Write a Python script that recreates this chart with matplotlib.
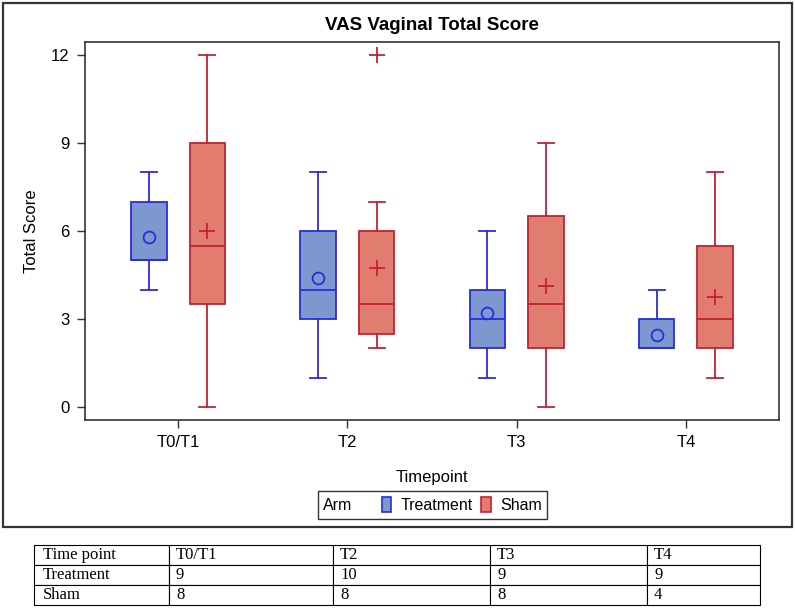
import matplotlib.pyplot as plt
from matplotlib.patches import Patch, Rectangle
from matplotlib.offsetbox import HPacker

# data
timepoints = ['T0/T1', 'T2', 'T3', 'T4']
arms = ['Treatment', 'Sham']

trt_low = [4, 1, 1, 2]
trt_q1 = [5, 3, 2, 2]
trt_med = [5, 4, 3, 2]
trt_q3 = [7, 6, 4, 3]
trt_high = [8, 8, 6, 4]
trt_mean = [5.78, 4.4, 3.22, 2.44]
trt_fliers = [[], [], [], []]

sham_low = [0, 2, 0, 1]
sham_q1 = [3.5, 2.5, 2, 2]
sham_med = [5.5, 3.5, 3.5, 3]
sham_q3 = [9, 6, 6.5, 5.5]
sham_high = [12, 7, 9, 8]
sham_mean = [6.0, 4.75, 4.12, 3.75]
sham_fliers = [[], [12], [], []]

# table under the chart
table_header = ['Time point', 'T0/T1', 'T2', 'T3', 'T4']
table_trt_n = [9, 10, 9, 9]
table_sham_n = [8, 8, 8, 4]

trt_fill, trt_edge = '#7d97cf', '#2b2be0'
sham_fill, sham_edge = '#e07d6e', '#c62035'

plt.rcParams['font.family'] = ['Liberation Sans', 'DejaVu Sans']

W, H = 795, 608
fig = plt.figure(figsize=(W / 100, H / 100), dpi=100)

ax = fig.add_axes([85 / W, 1 - 420 / H, (779 - 85) / W, (420 - 42) / H])


def make_stats(low, q1, med, q3, high, mean, fliers):
    out = []
    for i in range(len(low)):
        out.append(dict(whislo=low[i], q1=q1[i], med=med[i], q3=q3[i],
                        whishi=high[i], mean=mean[i], fliers=fliers[i]))
    return out


def draw(stats, pos, fill, edge, meanmark):
    ax.bxp(stats, positions=pos, widths=0.21, patch_artist=True,
           showmeans=True, showfliers=True,
           boxprops=dict(facecolor=fill, edgecolor=edge, linewidth=1.3),
           medianprops=dict(color=edge, linewidth=1.3),
           whiskerprops=dict(color=edge, linewidth=1.3),
           capprops=dict(color=edge, linewidth=1.3),
           capwidths=0.095,
           meanprops=dict(marker=meanmark, markerfacecolor='none',
                          markeredgecolor=edge, markersize=8.5 if meanmark == 'o' else 11,
                          markeredgewidth=1.3),
           flierprops=dict(marker='+', markeredgecolor=edge, markersize=11,
                           markeredgewidth=1.3))


x = list(range(len(timepoints)))
draw(make_stats(trt_low, trt_q1, trt_med, trt_q3, trt_high, trt_mean, trt_fliers),
     [i - 0.173 for i in x], trt_fill, trt_edge, 'o')
draw(make_stats(sham_low, sham_q1, sham_med, sham_q3, sham_high, sham_mean, sham_fliers),
     [i + 0.173 for i in x], sham_fill, sham_edge, '+')

ax.set_xlim(-0.55, 3.55)
ax.set_ylim(-0.44, 12.44)
ax.set_xticks(x)
ax.set_xticklabels(timepoints)
ax.set_yticks([0, 3, 6, 9, 12])
ax.tick_params(axis='both', labelsize=12, length=6, width=1, color='#333333', pad=5)
for s in ax.spines.values():
    s.set_color('#333333')
    s.set_linewidth(1.2)

ax.set_title('VAS Vaginal Total Score', fontsize=13.5, fontweight='bold', pad=9)
ax.set_xlabel('Timepoint', fontsize=12, labelpad=14)
ax.set_ylabel('Total Score', fontsize=12, labelpad=9)

handles = [Patch(facecolor=trt_fill, edgecolor=trt_edge, linewidth=1.2),
           Patch(facecolor=sham_fill, edgecolor=sham_edge, linewidth=1.2)]
leg = fig.legend(handles, arms, ncol=2, loc='center', title='Arm',
                 title_fontsize=11.5,
                 bbox_to_anchor=(432.5 / W, 1 - 505 / H), fontsize=11.5,
                 frameon=True, fancybox=False, edgecolor='black',
                 handlelength=0.6, handleheight=1.1, handletextpad=0.6,
                 columnspacing=0.5, borderpad=0.25, borderaxespad=0)
leg.get_frame().set_linewidth(1.0)
# put the "Arm" title to the left of the entries, as in the SAS legend
box = HPacker(pad=4, sep=21,
              children=[leg._legend_title_box, leg._legend_handle_box],
              align='center')
box.set_figure(fig)
box.set_offset(leg._findoffset)
leg._legend_box = box

# outer frame around the chart
fig.patches.append(Rectangle((3 / W, 1 - 527 / H), (792 - 3) / W, (527 - 3) / H,
                             transform=fig.transFigure, fill=False,
                             edgecolor='#333333', linewidth=1.6))

# count table
tax = fig.add_axes([34 / W, 1 - 605 / H, (760 - 34) / W, (605 - 545) / H])
tax.axis('off')
rows = [table_header,
        ['Treatment'] + [str(v) for v in table_trt_n],
        ['Sham'] + [str(v) for v in table_sham_n]]
widths = [135, 164, 157, 157, 113]
tot = sum(widths)
tbl = tax.table(cellText=rows, colWidths=[w / tot for w in widths],
                cellLoc='left', bbox=[0, 0, 1, 1])
tbl.auto_set_font_size(False)
for (r, c), cell in tbl.get_celld().items():
    cell.set_linewidth(0.8)
    cell.set_edgecolor('black')
    cell.PAD = (9 if c == 0 else 7) / widths[c]
    cell.get_text().set_fontsize(12)
    cell.get_text().set_fontfamily(['Liberation Serif', 'DejaVu Serif'])

fig.savefig('out.png', dpi=100)
